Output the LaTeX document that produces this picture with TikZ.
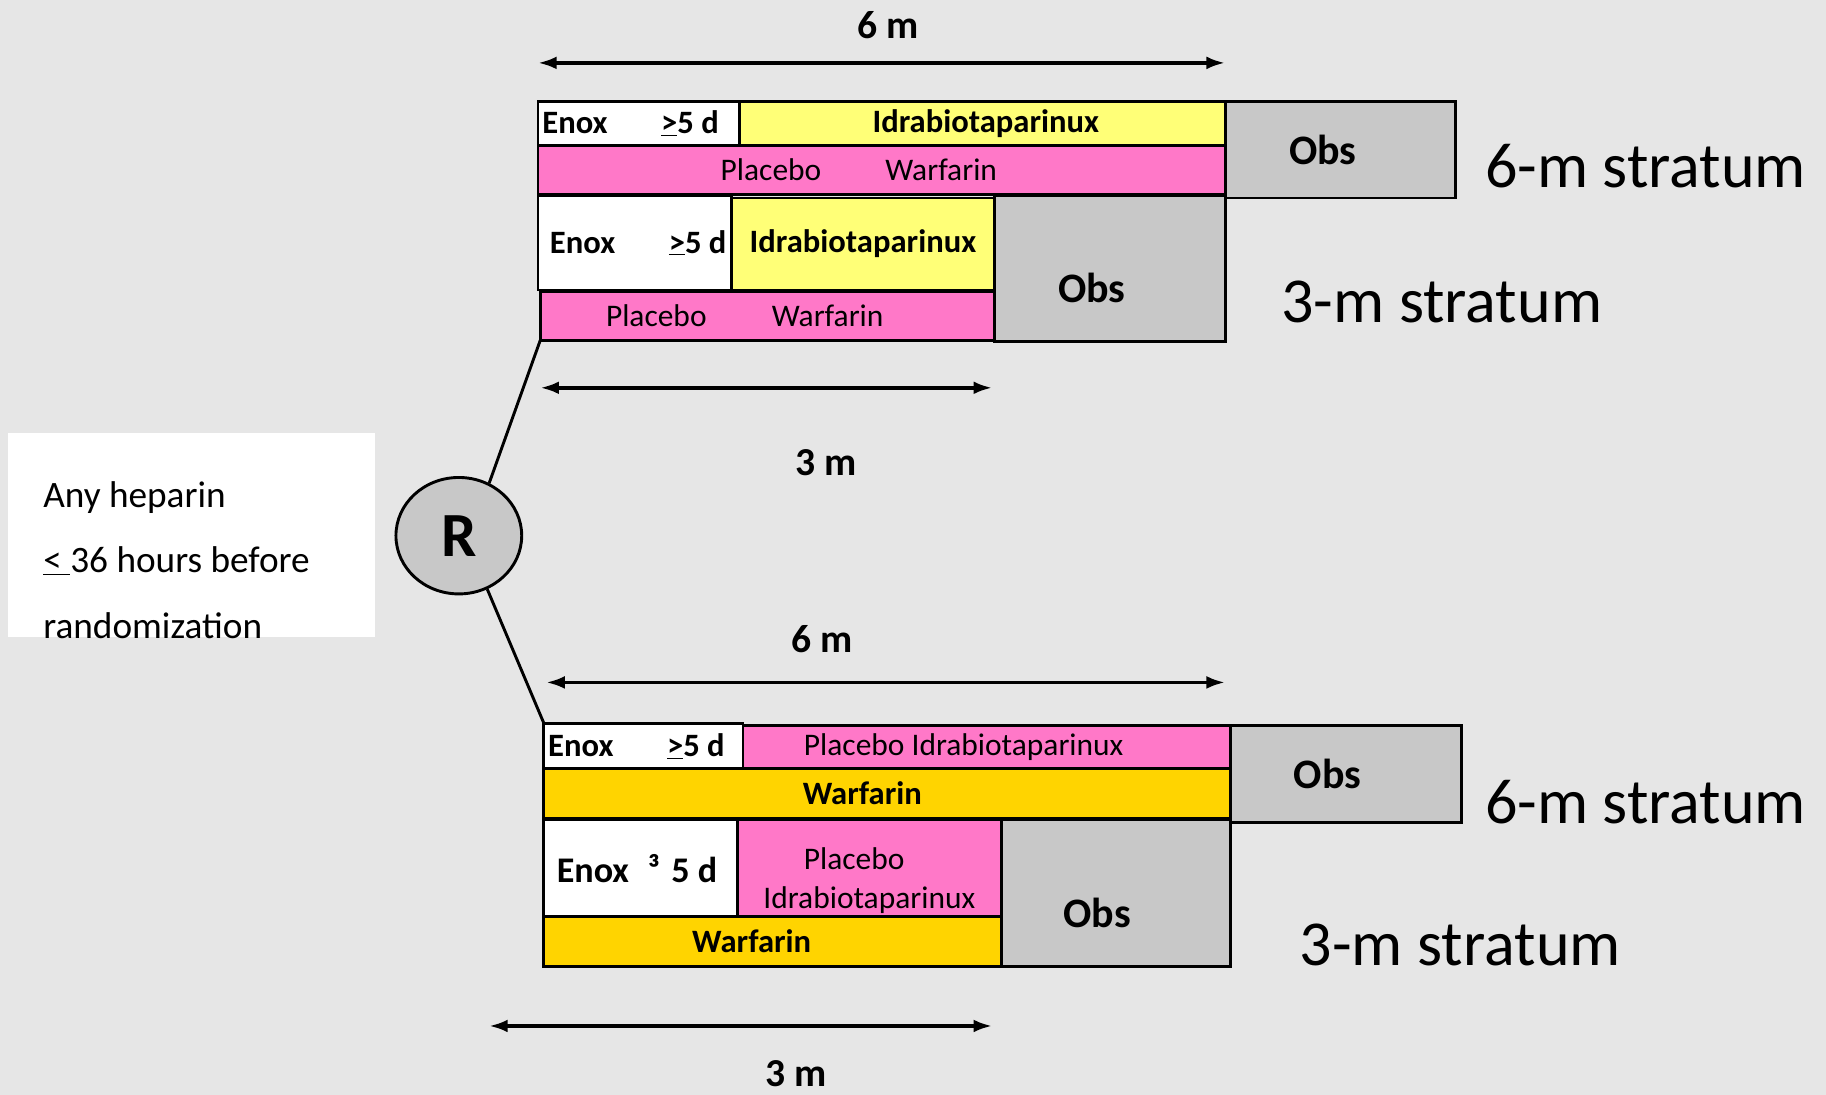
\documentclass[tikz,border=0pt]{standalone}
\usepackage{fontspec}
\setmainfont{Carlito}
\usetikzlibrary{arrows.meta,positioning,shapes.geometric}
\definecolor{bggray}{HTML}{E6E6E6}
\definecolor{obsgray}{HTML}{C8C8C8}
\definecolor{idrayellow}{HTML}{FFFF77}
\definecolor{plpink}{HTML}{FF78C8}
\definecolor{warfgold}{HTML}{FFD400}
\newcommand{\sz}[2]{\fontsize{#1}{#2}\selectfont}
\newcommand{\lowered}[1]{\raisebox{-17pt}[\height][\depth]{#1}}

\begin{document}
\begin{tikzpicture}[
  x=1pt, y=-1pt,
  cell/.style={draw, line width=2.5pt, anchor=north west, inner sep=0pt, outer sep=0pt, font=\sz{27}{34}},
  boldcell/.style={cell, font=\bfseries\sz{28}{34}},
  span/.style={{Latex[length=16pt,width=11pt]}-{Latex[length=16pt,width=11pt]}, line width=3pt},
  dur/.style={font=\bfseries\sz{34}{40}},
  stratum/.style={font=\sz{55}{60}},
  obs/.style={font=\bfseries\sz{36}{40}}
]
\fill[bggray] (0,0) rectangle (1568,940);
\useasboundingbox (0,0) rectangle (1568,940);

% inclusion condition and randomisation
\node[fill=white, anchor=north west, minimum width=315pt, minimum height=175pt, inner sep=0pt] (cond) at (7,372) {};
\node[anchor=west, align=left, inner sep=0pt, font=\sz{32}{56}] (condtxt) at (37,481)
  {Any heparin\\\underline{<\ }36 hours before\\randomization};
\node[ellipse, draw, fill=obsgray, line width=2.5pt, minimum width=108pt, minimum height=100pt,
  inner sep=0pt, font=\bfseries\sz{54}{60}] (R) at (394,460) {R};

% upper arm
\node[boldcell, fill=white, minimum width=173pt, minimum height=38pt] (en1) at (462,87)
  {\raisebox{-2pt}{Enox\hspace{46pt}\underline{>}5 d}\hspace*{14pt}};
\node[boldcell, fill=idrayellow, minimum width=417pt, minimum height=38pt] (id1) at (635,87)
  {\raisebox{-2pt}{Idrabiotaparinux}\hspace*{-6pt}};
\node[cell, fill=plpink, minimum width=590pt, minimum height=42pt] (pw1) at (462,125)
  {Placebo\hspace{55pt}Warfarin\hspace*{39pt}};
\node[cell, fill=obsgray, minimum width=198pt, minimum height=83pt, obs] (ob1) at (1052,87) {Obs\hspace*{30pt}};
\node[boldcell, fill=white, minimum width=166pt, minimum height=81pt] (en2) at (462,168)
  {\hspace*{6pt}Enox\hspace{46pt}\underline{>}5 d};
\node[boldcell, fill=idrayellow, minimum width=226pt, minimum height=79pt] (id2) at (628,170) {Idrabiotaparinux};
\node[cell, fill=plpink, minimum width=390pt, minimum height=42pt] (pw2) at (464,250)
  {Placebo\hspace{56pt}Warfarin\hspace*{39pt}};
\node[cell, fill=obsgray, minimum width=198pt, minimum height=125pt, obs] (ob2) at (854,168)
  {\lowered{Obs}\hspace*{31pt}};

% lower arm
\node[boldcell, fill=white, minimum width=171pt, minimum height=39pt] (en3) at (467,621)
  {Enox\hspace{46pt}\underline{>}5 d\hspace*{12pt}};
\node[cell, fill=plpink, minimum width=419pt, minimum height=37pt] (pi3) at (638,623)
  {Placebo Idrabiotaparinux\hspace*{40pt}};
\node[cell, fill=obsgray, minimum width=198pt, minimum height=83pt, obs] (ob3) at (1057,623) {Obs\hspace*{32pt}};
\node[boldcell, fill=warfgold, minimum width=590pt, minimum height=43pt] (wa3) at (467,660)
  {Warfarin\hspace*{43pt}};
\node[cell, fill=white, minimum width=166pt, minimum height=83pt, font=\bfseries\sz{31}{36}] (en4) at (467,704)
  {Enox\hspace{16pt}³\hspace{10pt}5 d\hspace*{6pt}};
\node[cell, fill=plpink, minimum width=227pt, minimum height=83pt, align=center] (pi4) at (633,704)
  {\rule{0pt}{40pt}Placebo\hspace*{26pt}\\Idrabiotaparinux};
\node[boldcell, fill=warfgold, minimum width=393pt, minimum height=43pt] (wa4) at (467,787)
  {Warfarin\hspace*{36pt}};
\node[cell, fill=obsgray, minimum width=197pt, minimum height=126pt, obs] (ob4) at (860,704)
  {\lowered{Obs}\hspace*{33pt}};

\draw[line width=2.5pt] (R.60) -- (pw2.south west);
\draw[line width=2.5pt] (R.-62) -- (en3.north west);

% durations
\coordinate (u6l) at (462,54);  \coordinate (u6r) at (1052,54);
\coordinate (u3l) at (464,333); \coordinate (u3r) at (852,333);
\coordinate (l6l) at (469,586); \coordinate (l6r) at (1052,586);
\coordinate (l3l) at (420,881); \coordinate (l3r) at (852,881);
\draw[span] (u6l) -- (u6r);
\draw[span] (u3l) -- (u3r);
\draw[span] (l6l) -- (l6r);
\draw[span] (l3l) -- (l3r);
\node[dur] (u6) at (763,22) {6 m};
\node[dur] (u3) at (709,397) {3 m};
\node[dur] (l6) at (706,549) {6 m};
\node[dur] (l3) at (684,922) {3 m};

% strata
\node[stratum] (us6) at (1413,143) {6-m stratum};
\node[stratum] (us3) at (1238,259) {3-m stratum};
\node[stratum] (ls6) at (1413,689) {6-m stratum};
\node[stratum] (ls3) at (1254,811) {3-m stratum};
\end{tikzpicture}
\end{document}
